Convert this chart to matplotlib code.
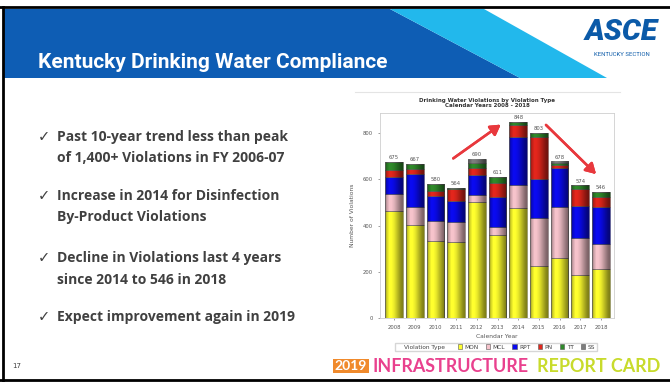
import numpy as np
import matplotlib.pyplot as plt
from matplotlib.patches import Polygon, Rectangle

# Violations by type, calendar years 2008-2018
years = [2008, 2009, 2010, 2011, 2012, 2013, 2014, 2015, 2016, 2017, 2018]
mon = [463, 403, 335, 331, 504, 361, 478, 227, 259, 186, 211]
mcl = [74, 76, 87, 86, 27, 33, 98, 205, 223, 159, 110]
rpt = [72, 145, 108, 90, 88, 132, 210, 169, 169, 140, 158]
pn = [32, 21, 19, 50, 32, 60, 50, 185, 12, 75, 47]
tt = [34, 22, 31, 7, 20, 25, 12, 17, 7, 14, 20]
ss = [0, 0, 0, 0, 19, 0, 0, 0, 8, 0, 0]

types = ['MON', 'MCL', 'RPT', 'PN', 'TT', 'SS']
type_colors = ['#ffff2e', '#f6c3cb', '#0a0af0', '#e3261c', '#2f8a2a', '#7d7d7d']

bullets = [
    ['Past 10-year trend less than peak', 'of 1,400+ Violations in FY 2006-07'],
    ['Increase in 2014 for Disinfection', 'By-Product Violations'],
    ['Decline in Violations last 4 years', 'since 2014 to 546 in 2018'],
    ['Expect improvement again in 2019'],
]

W, H = 670, 382
fig = plt.figure(figsize=(W / 100, H / 100), dpi=100)
fig.patch.set_facecolor('white')


def fx(x):
    return x / W


def fy(y):
    return 1 - y / H


def poly(pts, color, z=0):
    p = Polygon([(fx(a), fy(b)) for a, b in pts], closed=True, facecolor=color,
                edgecolor='none', transform=fig.transFigure, zorder=z)
    fig.add_artist(p)


# slide frame
fig.add_artist(plt.Line2D([0, 1], [fy(7), fy(7)], color='black', lw=2, transform=fig.transFigure))
fig.add_artist(plt.Line2D([fx(3), fx(3)], [fy(7), fy(380)], color='black', lw=2, transform=fig.transFigure))
fig.add_artist(plt.Line2D([0, 1], [fy(380), fy(380)], color='black', lw=2, transform=fig.transFigure))

# header band
poly([(4, 9), (390, 9), (520, 78), (4, 78)], '#0e5db4')
poly([(390, 9), (484, 9), (607, 78), (520, 78)], '#22b8ec')
fig.text(fx(38), fy(63), 'Kentucky Drinking Water Compliance', color='white',
         fontsize=15, fontweight='bold', family=['Roboto', 'DejaVu Sans'], va='center', ha='left')
fig.text(fx(621), fy(32), 'ASCE', color='#0b5aa8', fontsize=21.5, fontweight='black',
         family=['Roboto', 'DejaVu Sans'], style='italic', ha='center', va='center')
fig.text(fx(622), fy(55), 'KENTUCKY SECTION', color='#0b5aa8', fontsize=4.3,
         family=['Roboto', 'DejaVu Sans'], ha='center', va='center')

# bullet list
ypos = [[137, 158], [196, 217], [258, 280], [317]]
for lines, ys in zip(bullets, ypos):
    fig.text(fx(38), fy(ys[0]), '\u2713', color='#404040', fontsize=10.5,
             family=['DejaVu Sans'], va='center', ha='left')
    for txt, yy in zip(lines, ys):
        fig.text(fx(57), fy(yy), txt, color='#404040', fontsize=10, fontweight='bold',
                 family=['Open Sans', 'DejaVu Sans'], va='center', ha='left')
fig.text(fx(12), fy(366), '17', color='#404040', fontsize=5, va='center', ha='left')

# report card footer
fig.add_artist(Rectangle((fx(333), fy(373)), fx(36), fy(359) - fy(373), facecolor='#f08a2c',
                         edgecolor='none', transform=fig.transFigure))
fig.text(fx(351), fy(366), '2019', color='white', fontsize=10, fontweight='bold',
         family=['Lato'], ha='center', va='center')
fig.text(fx(373), fy(366), 'INFRASTRUCTURE', color='#e9418e', fontsize=12.9, fontweight='bold',
         family=['Lato'], ha='left', va='center')
fig.text(fx(660), fy(366), 'REPORT CARD', color='#c8db2c', fontsize=12.9, fontweight='bold',
         family=['Lato'], ha='right', va='center')

# chart
fig.add_artist(plt.Line2D([fx(355), fx(620)], [fy(92), fy(92)], color='#e4e4e4', lw=0.8,
                          transform=fig.transFigure))
ax = fig.add_axes([fx(380), fy(318), fx(614) - fx(380), fy(113) - fy(318)])
x = np.array(years)
series = [mon, mcl, rpt, pn, tt, ss]
bottom = np.zeros(len(years))
handles = []
for name, vals, col in zip(types, series, type_colors):
    b = ax.bar(x, vals, width=0.86, bottom=bottom, color=col, edgecolor='#555555',
               linewidth=0.4, label=name, zorder=2)
    handles.append(b)
    bottom += np.array(vals)

# shading across each column
shade = np.array([0.30, 0.12, 0.0, 0.0, 0.05, 0.12, 0.22, 0.32, 0.42, 0.5])
rgba = np.zeros((1, len(shade), 4))
rgba[..., 3] = shade
for xi, tot in zip(x, bottom):
    im = ax.imshow(rgba, extent=(xi - 0.43, xi + 0.43, 0, tot), aspect='auto',
                   interpolation='bilinear', zorder=3)
    im.set_clip_path(Rectangle((xi - 0.43, 0), 0.86, tot, transform=ax.transData))
    ax.text(xi, tot + 8, f'{int(tot)}', ha='center', va='bottom', fontsize=3.8, color='#555555')

ax.set_xlim(2008 - 0.68, 2018 + 0.63)
ax.set_ylim(0, 888)
ax.set_xticks(years)
ax.set_xticklabels([str(y) for y in years])
ax.set_yticks([0, 200, 400, 600, 800])
ax.tick_params(labelsize=3.8, colors='#555555', length=1.5, width=0.4)
for s in ax.spines.values():
    s.set_color('#cfcfcf')
    s.set_linewidth(0.6)
ax.set_xlabel('Calendar Year', fontsize=4.3, color='#555555', labelpad=3)
ax.set_ylabel('Number of Violations', fontsize=4.3, color='#555555', labelpad=6)
fig.text(fx(487), fy(100.5), 'Drinking Water Violations by Violation Type', fontsize=4,
         fontweight='bold', color='#333333', ha='center', va='center')
fig.text(fx(487), fy(105.5), 'Calendar Years 2008 - 2018', fontsize=4,
         fontweight='bold', color='#333333', ha='center', va='center')

blank = Rectangle((0, 0), 1, 1, visible=False)
leg = fig.legend([blank] + [h[0] for h in handles], ['Violation Type   '] + types,
                 loc='center', bbox_to_anchor=(fx(496), fy(347)), ncol=7, fontsize=4.2,
                 frameon=True, fancybox=False, edgecolor='#cccccc', handlelength=0.8,
                 handleheight=0.8, handletextpad=0.4, columnspacing=1.2, borderpad=0.3)
for t in leg.get_texts():
    t.set_color('#444444')

# trend arrows
arrow = dict(arrowstyle='-|>,head_length=0.6,head_width=0.35', color='#e8383d', lw=1.8)
fig.add_artist(plt.annotate('', xy=(fx(503), fy(123)), xytext=(fx(451), fy(160)),
                            xycoords='figure fraction', arrowprops=arrow))
fig.add_artist(plt.annotate('', xy=(fx(598), fy(176)), xytext=(fx(544), fy(123)),
                            xycoords='figure fraction', arrowprops=arrow))

fig.savefig('out.png', dpi=100)
